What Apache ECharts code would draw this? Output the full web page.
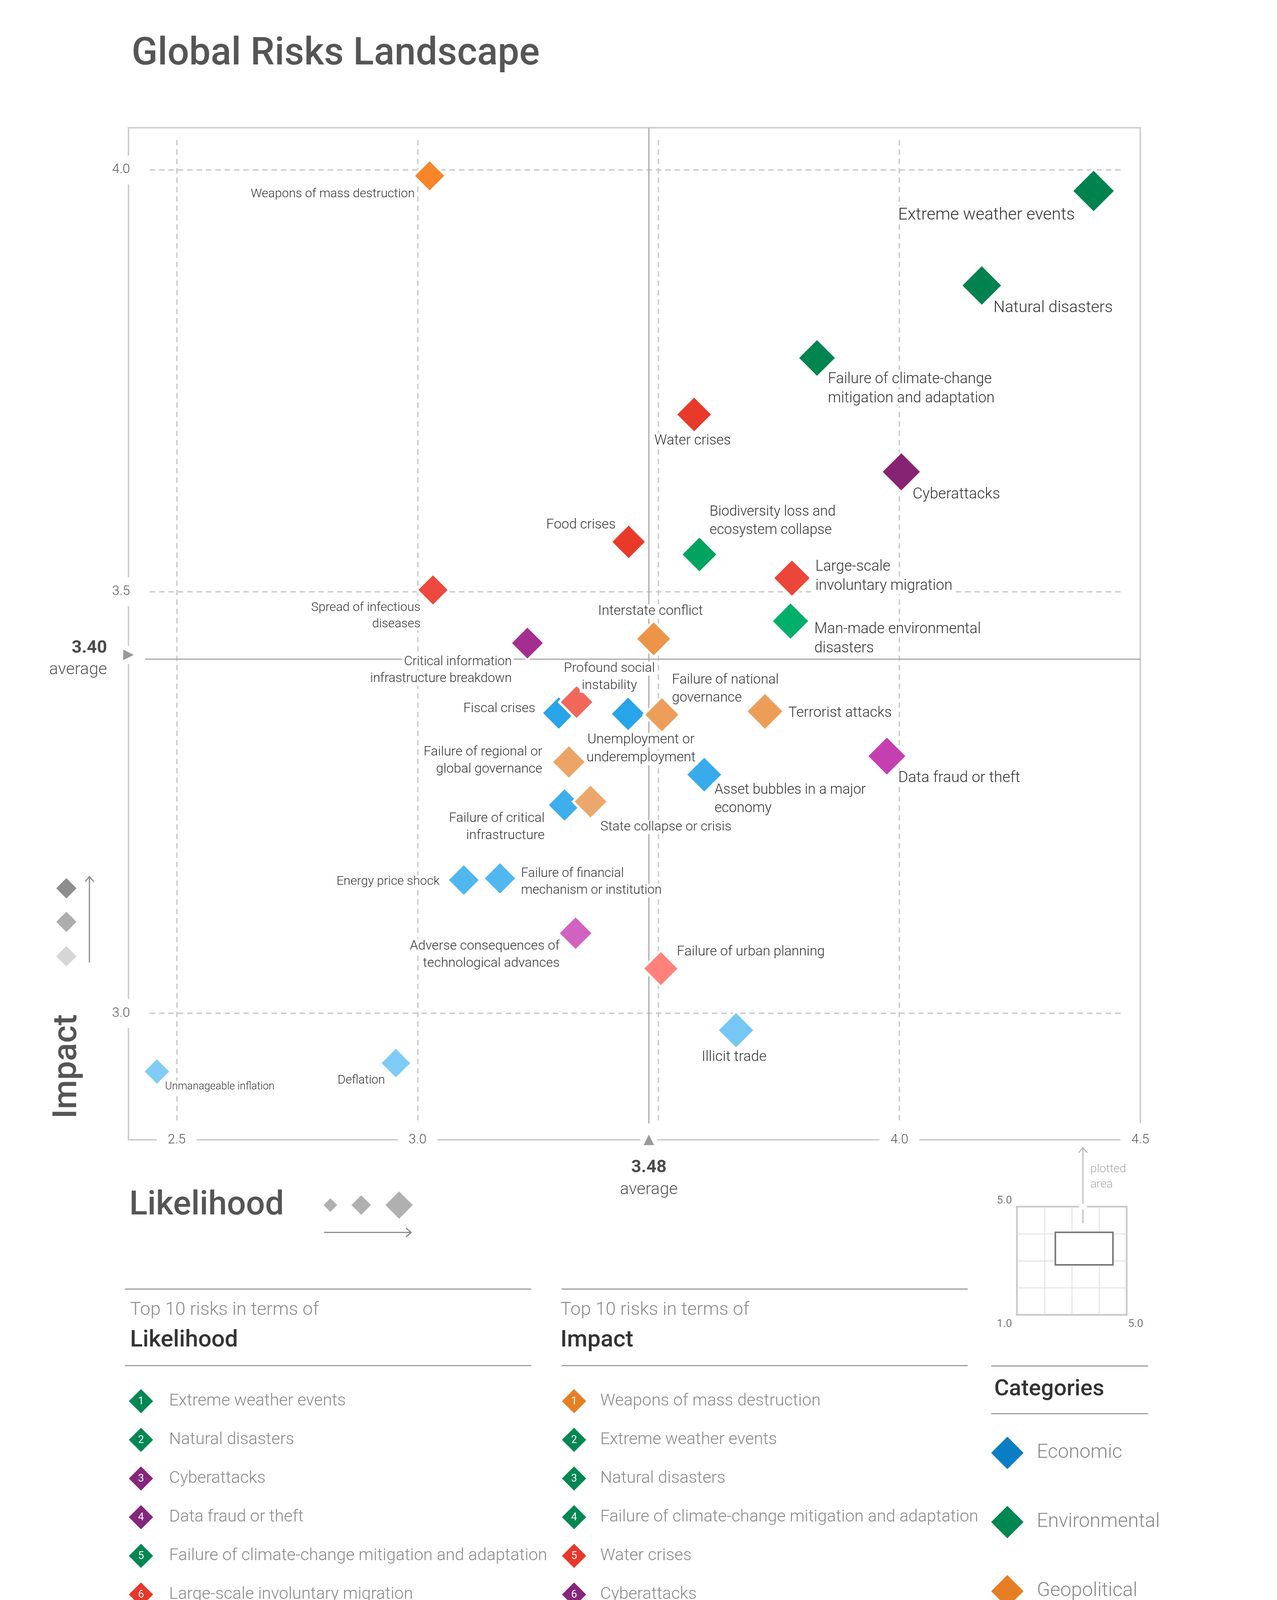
<!DOCTYPE html>
<html><head><meta charset="utf-8">
<script src="https://cdn.jsdelivr.net/npm/echarts@6/dist/echarts.min.js"></script>
<style>html,body{margin:0;padding:0;background:#fff}#c{width:3270px;height:4672px}</style>
</head><body><div id="c"></div>
<script>
// ---------------- DATA ----------------
const riskNames = [
  'Weapons of mass destruction','Extreme weather events','Natural disasters',
  'Failure of climate-change mitigation and adaptation','Water crises','Cyberattacks',
  'Biodiversity loss and ecosystem collapse','Food crises','Large-scale involuntary migration',
  'Spread of infectious diseases','Interstate conflict','Man-made environmental disasters',
  'Critical information infrastructure breakdown','Profound social instability','Fiscal crises',
  'Unemployment or underemployment','Failure of national governance','Terrorist attacks',
  'Data fraud or theft','Asset bubbles in a major economy','Failure of regional or global governance',
  'Failure of critical infrastructure','State collapse or crisis','Energy price shock',
  'Failure of financial mechanism or institution','Adverse consequences of technological advances',
  'Failure of urban planning','Illicit trade','Deflation','Unmanageable inflation'
];
const riskCategories = [
  'Geopolitical','Environmental','Environmental','Environmental','Societal','Technological',
  'Environmental','Societal','Societal','Societal','Geopolitical','Environmental',
  'Technological','Societal','Economic','Economic','Geopolitical','Geopolitical',
  'Technological','Economic','Geopolitical','Economic','Geopolitical','Economic',
  'Economic','Technological','Societal','Economic','Economic','Economic'
];
const likelihood = [3.025,4.403,4.171,3.829,3.574,4.004,3.585,3.438,3.777,3.032,3.490,3.774,
  3.228,3.330,3.293,3.437,3.507,3.721,3.974,3.595,3.314,3.305,3.359,3.096,3.171,3.328,3.505,3.661,2.955,2.459];
const impact = [3.993,3.975,3.863,3.777,3.710,3.642,3.544,3.559,3.516,3.502,3.444,3.465,
  3.439,3.369,3.356,3.355,3.354,3.358,3.305,3.283,3.298,3.247,3.251,3.158,3.160,3.095,3.053,2.980,2.941,2.931];
const categories = ['Economic','Environmental','Geopolitical','Societal','Technological'];
const topLikelihood = ['Extreme weather events','Natural disasters','Cyberattacks','Data fraud or theft',
  'Failure of climate-change mitigation and adaptation','Large-scale involuntary migration',
  'Man-made environmental disasters','Terrorist attacks','Illicit trade','Asset bubbles in a major economy'];
const topImpact = ['Weapons of mass destruction','Extreme weather events','Natural disasters',
  'Failure of climate-change mitigation and adaptation','Water crises','Cyberattacks','Food crises',
  'Biodiversity loss and ecosystem collapse','Large-scale involuntary migration','Spread of infectious diseases'];
const xTickLabels = [2.5, 3.0, 4.0, 4.5];
const xGridValues = [2.5, 3.0, 3.5, 4.0];
const yTickLabels = [3.0, 3.5, 4.0];
const yGridValues = [3.0, 3.5, 4.0];
const xRange = [2.4, 4.5];
const yRange = [2.85, 4.05];
const avgLikelihood = 3.48, avgLikelihoodLabel = '3.48';
const avgImpact = 3.425, avgImpactLabel = '3.40';
const insetRange = [1, 5];

// ---------------- STYLE ----------------
const FONT = 'Roboto, "Liberation Sans", Arial, sans-serif';
const baseColor = {Economic:'#0A7DC4', Environmental:'#008752', Geopolitical:'#E67F24', Societal:'#E8372A', Technological:'#84267A'};
const shadeStops = {
  Economic: [[2.9,'#86CFF7'],[3.4,'#1FA0E8']],
  Environmental: [[3.45,'#00B16B'],[3.6,'#009A5A'],[3.8,'#00824F']],
  Geopolitical: [[3.27,'#ECA86C'],[3.45,'#EC9346'],[4.0,'#F7852A']],
  Societal: [[3.05,'#FF827A'],[3.42,'#EF6456'],[3.5,'#EE4A3F'],[3.56,'#E8392A']],
  Technological: [[3.1,'#D262C0'],[3.33,'#C43BAF'],[3.43,'#A52D92'],[3.64,'#862473']]
};
function h2r(h){return [1,3,5].map(i=>parseInt(h.substr(i,2),16));}
function r2h(r){return '#'+r.map(v=>Math.round(v).toString(16).padStart(2,'0')).join('');}
function shade(cat, v){
  const s = shadeStops[cat];
  if (v <= s[0][0]) return s[0][1];
  if (v >= s[s.length-1][0]) return s[s.length-1][1];
  for (let k=0;k<s.length-1;k++){
    if (v>=s[k][0] && v<=s[k+1][0]){
      const t=(v-s[k][0])/(s[k+1][0]-s[k][0]); const a=h2r(s[k][1]), b=h2r(s[k+1][1]);
      return r2h(a.map((x,j)=>x+(b[j]-x)*t));
    }
  }
}
const sizeFor = l => 65 + 21.1*(l-2.46);
const fontFor = l => Math.round(27 + 8*(l-2.46));

// label layout: text (with line breaks), alignment, offset from marker centre
const labelLayout = {
  'Weapons of mass destruction':{t:'Weapons of mass destruction',a:'right',o:[-38,47]},
  'Extreme weather events':{t:'Extreme weather events',a:'right',o:[-48,62]},
  'Natural disasters':{t:'Natural disasters',a:'left',o:[30,58]},
  'Failure of climate-change mitigation and adaptation':{t:'Failure of climate-change\nmitigation and adaptation',a:'left',o:[28,80]},
  'Water crises':{t:'Water crises',a:'center',o:[-4,68]},
  'Cyberattacks':{t:'Cyberattacks',a:'left',o:[29,58]},
  'Biodiversity loss and ecosystem collapse':{t:'Biodiversity loss and\necosystem collapse',a:'left',o:[26,-85]},
  'Food crises':{t:'Food crises',a:'right',o:[-33,-43]},
  'Large-scale involuntary migration':{t:'Large-scale\ninvoluntary migration',a:'left',o:[60,-4]},
  'Spread of infectious diseases':{t:'Spread of infectious\ndiseases',a:'right',o:[-32,67]},
  'Interstate conflict':{t:'Interstate conflict',a:'center',o:[-8,-70]},
  'Man-made environmental disasters':{t:'Man-made environmental\ndisasters',a:'left',o:[61,46]},
  'Critical information infrastructure breakdown':{t:'Critical information\ninfrastructure breakdown',a:'right',o:[-40,70]},
  'Profound social instability':{t:'Profound social\ninstability',a:'center',o:[84,-64]},
  'Fiscal crises':{t:'Fiscal crises',a:'right',o:[-60,-11]},
  'Unemployment or underemployment':{t:'Unemployment or\nunderemployment',a:'center',o:[33,90]},
  'Failure of national governance':{t:'Failure of national\ngovernance',a:'left',o:[26,-66]},
  'Terrorist attacks':{t:'Terrorist attacks',a:'left',o:[60,5]},
  'Data fraud or theft':{t:'Data fraud or theft',a:'left',o:[29,57]},
  'Asset bubbles in a major economy':{t:'Asset bubbles in a major\neconomy',a:'left',o:[26,63]},
  'Failure of regional or global governance':{t:'Failure of regional or\nglobal governance',a:'right',o:[-68,-3]},
  'Failure of critical infrastructure':{t:'Failure of critical\ninfrastructure',a:'right',o:[-51,57]},
  'State collapse or crisis':{t:'State collapse or crisis',a:'left',o:[25,65]},
  'Energy price shock':{t:'Energy price shock',a:'right',o:[-62,4]},
  'Failure of financial mechanism or institution':{t:'Failure of financial\nmechanism or institution',a:'left',o:[54,10]},
  'Adverse consequences of technological advances':{t:'Adverse consequences of\ntechnological advances',a:'right',o:[-41,55]},
  'Failure of urban planning':{t:'Failure of urban planning',a:'left',o:[41,-42]},
  'Illicit trade':{t:'Illicit trade',a:'center',o:[-5,69]},
  'Deflation':{t:'Deflation',a:'right',o:[-28,45]},
  'Unmanageable inflation':{t:'Unmanageable inflation',a:'left',o:[21,39]}
};
const PAD = 5;
function labelFor(name, l){
  const lay = labelLayout[name]; const fs = fontFor(l); const lh = Math.round(fs*1.3);
  const dx = lay.o[0] + (lay.a==='right'?PAD:(lay.a==='left'?-PAD:0));
  return {show:true, position:'inside', offset:[dx, lay.o[1]], align:lay.a, verticalAlign:'middle',
    formatter: lay.t.split('\n').map(s=>'{l|'+s+'}').join('\n'),
    fontSize: fs, lineHeight: lh, color:'#333', fontFamily:FONT, fontWeight:300, textBorderWidth:0,
    rich:{l:{backgroundColor:'#fff', padding:[1,PAD], fontSize:fs, lineHeight:lh, color:'#333', fontFamily:FONT, fontWeight:300}}};
}

// ---------------- SERIES ----------------
const riskSeries = categories.map(cat => ({
  type:'scatter', name:cat, xAxisIndex:0, yAxisIndex:0, z:3, symbol:'diamond',
  itemStyle:{color:baseColor[cat], borderColor:'#fff', borderWidth:6, opacity:1},
  emphasis:{disabled:true},
  data: riskNames.map((n,i)=>i).filter(i=>riskCategories[i]===cat).map(i=>({
    name:riskNames[i], value:[likelihood[i], impact[i]],
    symbolSize: sizeFor(likelihood[i]) + 6,
    itemStyle:{color: shade(cat, impact[i])},
    label: labelFor(riskNames[i], likelihood[i])
  }))
}));

const gridLineData = [];
xGridValues.forEach(v=>gridLineData.push([{coord:[v, 2.873]},{coord:[v, 4.036]}]));
yGridValues.forEach(v=>gridLineData.push([{coord:[2.444, v]},{coord:[4.465, v]}]));

const avgRich = {
  v:{fontSize:45, fontWeight:'bold', color:'#4a4a4a', lineHeight:56, fontFamily:FONT},
  a:{fontSize:43, fontWeight:300, color:'#555', lineHeight:56, fontFamily:FONT}
};

const series = [
  {type:'scatter', name:'grid', xAxisIndex:0, yAxisIndex:0, z:1, silent:true, data:[],
   markLine:{z:1, silent:true, symbol:['none','none'], animation:false, label:{show:false},
     lineStyle:{color:'#cfcfcf', width:4, type:[14,10]}, data:gridLineData}},
  {type:'scatter', name:'avg', xAxisIndex:0, yAxisIndex:0, z:1, silent:true, data:[],
   markLine:{z:1, silent:true, symbol:['none','none'], animation:false,
     lineStyle:{color:'#aaa', width:3, type:'solid'},
     data:[
       {xAxis:avgLikelihood, label:{show:true, position:'start', distance:44, formatter:'{v|'+avgLikelihoodLabel+'}\n{a|average}', rich:avgRich, align:'center'}},
       {yAxis:avgImpact, label:{show:true, position:'start', distance:55, formatter:'{v|'+avgImpactLabel+'}\n{a|average}', rich:avgRich, align:'right'}}
     ]}},
  ...riskSeries,
  {type:'scatter', name:'avgHalo', xAxisIndex:0, yAxisIndex:0, z:5, silent:true, clip:false,
   symbol:'rect', itemStyle:{color:'#fff', opacity:1},
   data:[{value:[avgLikelihood, yRange[0]], symbolSize:[44,84]},{value:[xRange[0], avgImpact], symbolSize:[84,46]}]},
  {type:'scatter', name:'avgMarks', xAxisIndex:0, yAxisIndex:0, z:6, silent:true, clip:false,
   symbol:'triangle', symbolSize:27, itemStyle:{color:'#999', opacity:1},
   data:[{value:[avgLikelihood, yRange[0]], symbolRotate:0},{value:[xRange[0], avgImpact], symbolRotate:-90}]},
  {type:'scatter', name:'inset', xAxisIndex:1, yAxisIndex:1, silent:true, data:[],
   markArea:{silent:true, itemStyle:{color:'#fff', borderColor:'#777', borderWidth:4},
     data:[[{coord:[xRange[0], yRange[0]]},{coord:[xRange[1], yRange[1]]}]]}}
];

// ---------------- GRAPHIC ----------------
const G = [];
function txt(text, x, y, o){ G.push(Object.assign({type:'text', z:50, style:Object.assign({text, x, y, fontFamily:FONT, fill:'#555', fontSize:30, align:'left', verticalAlign:'middle', textAlign:'left', textVerticalAlign:'middle'}, o.style||{})}, o.el||{})); }
function diamond(cx, cy, r, fill){ G.push({type:'polygon', z:50, shape:{points:[[cx,cy-r],[cx+r,cy],[cx,cy+r],[cx-r,cy]]}, style:{fill}}); }
function line(x1,y1,x2,y2,stroke,w){ G.push({type:'line', z:50, shape:{x1,y1,x2,y2}, style:{stroke, lineWidth:w}}); }
function poly(points, stroke, w){ G.push({type:'polyline', z:50, shape:{points}, style:{stroke, lineWidth:w, fill:null}}); }

txt('Global Risks Landscape', 337, 140, {style:{fontSize:98, fontWeight:500, fill:'#555'}});
txt('Impact', 0, 0, {style:{fontSize:86, fontWeight:500, fill:'#555', align:'center', textAlign:'center'}, el:{x:173, y:2730, rotation:Math.PI/2}});
txt('Likelihood', 331, 3087, {style:{fontSize:86, fontWeight:500, fill:'#555'}});
// impact legend
diamond(170, 2274, 26, '#8E8E8E'); diamond(170, 2360, 26, '#ADADAD'); diamond(170, 2448, 26, '#D6D6D6');
line(229, 2464, 229, 2245, '#888', 3); poly([[218,2257],[229,2244],[240,2257]], '#888', 3);
// likelihood legend
diamond(846, 3085, 17.5, '#B0B0B0'); diamond(925, 3085, 25, '#B0B0B0'); diamond(1022, 3085, 35, '#B0B0B0');
line(830, 3155, 1052, 3155, '#888', 3); poly([[1040,3144],[1053,3155],[1040,3166]], '#888', 3);
// inset
G.push({type:'rect', z:60, shape:{x:2763, y:3082, width:20, height:14}, style:{fill:'#fff'}});
line(2773, 3131, 2773, 2939, '#bbb', 3); poly([[2762,2951],[2773,2938],[2784,2951]], '#bbb', 3);
txt('plotted', 2792, 2993, {style:{fontSize:30, fill:'#aaa', fontWeight:300}});
txt('area', 2792, 3032, {style:{fontSize:30, fill:'#aaa', fontWeight:300}});
txt(insetRange[1].toFixed(1), 2572, 3074, {style:{fontSize:28, fill:'#777', align:'center', textAlign:'center'}});
txt(insetRange[0].toFixed(1), 2572, 3390, {style:{fontSize:28, fill:'#777', align:'center', textAlign:'center'}});
txt(insetRange[1].toFixed(1), 2908, 3390, {style:{fontSize:28, fill:'#777', align:'center', textAlign:'center'}});
// top 10 lists
const catOf = n => riskCategories[riskNames.indexOf(n)];
function list(items, heading, xr0, xr1, xh, xd, xt){
  line(xr0, 3300, xr1, 3300, '#8a8a8a', 2.5); line(xr0, 3496, xr1, 3496, '#8a8a8a', 2.5);
  txt('Top 10 risks in terms of', xh, 3354, {style:{fontSize:47, fill:'#8a8a8a', fontWeight:300}});
  txt(heading, xh, 3432, {style:{fontSize:60, fill:'#333', fontWeight:500}});
  items.forEach((n,i)=>{
    const y = 3587 + i*99.0;
    diamond(xd, y, 31, baseColor[catOf(n)]);
    txt(String(i+1), xd, y+1, {style:{fontSize:27, fill:'#fff', align:'center', textAlign:'center', fontWeight:400}});
    txt(n, xt, y, {style:{fontSize:43, fill:'#888', fontWeight:300}});
  });
}
list(topLikelihood, 'Likelihood', 320, 1360, 333, 361, 433);
list(topImpact, 'Impact', 1438, 2478, 1435, 1470, 1537);
// categories header
line(2538, 3497, 2940, 3497, '#8a8a8a', 2.5); line(2538, 3619, 2940, 3619, '#8a8a8a', 2.5);
txt('Categories', 2546, 3557, {style:{fontSize:58, fill:'#333', fontWeight:500}});

// ---------------- CHART ----------------
const chart = echarts.init(document.getElementById('c'), null, {renderer:'canvas', width:3270, height:4672});
const tickLabel = {fontSize:34, color:'#555', fontFamily:FONT, fontWeight:300, backgroundColor:'#fff'};
chart.setOption({
  backgroundColor:'#fff', animation:false,
  grid:[
    {left:329, top:327, width:2591, height:2591, show:true, borderColor:'#cfcfcf', borderWidth:4, backgroundColor:'transparent'},
    {left:2604, top:3089, width:281, height:277, show:true, borderColor:'#aaa', borderWidth:4, backgroundColor:'transparent'}
  ],
  xAxis:[
    {type:'value', gridIndex:0, min:xRange[0], max:xRange[1], z:1,
     axisLine:{show:true, onZero:false, lineStyle:{color:'#cfcfcf', width:4}}, axisTick:{show:false}, splitLine:{show:false},
     axisLabel:Object.assign({customValues:xTickLabels, formatter:v=>Number(v).toFixed(1), verticalAlign:'middle', margin:0, padding:[26,28], showMinLabel:true, showMaxLabel:true}, tickLabel)},
    {type:'value', gridIndex:1, min:insetRange[0], max:insetRange[1], interval:1,
     axisLine:{show:false}, axisTick:{show:false}, axisLabel:{show:false}, splitLine:{show:true, lineStyle:{color:'#ddd', width:2}}}
  ],
  yAxis:[
    {type:'value', gridIndex:0, min:yRange[0], max:yRange[1], z:1,
     axisLine:{show:true, onZero:false, lineStyle:{color:'#cfcfcf', width:4}}, axisTick:{show:false}, splitLine:{show:false},
     axisLabel:Object.assign({customValues:yTickLabels, formatter:v=>Number(v).toFixed(1), align:'center', margin:19, padding:[20,10], showMinLabel:true, showMaxLabel:true}, tickLabel)},
    {type:'value', gridIndex:1, min:insetRange[0], max:insetRange[1], interval:1,
     axisLine:{show:false}, axisTick:{show:false}, axisLabel:{show:false}, splitLine:{show:true, lineStyle:{color:'#ddd', width:2}}}
  ],
  legend:{orient:'vertical', left:2538, top:3678, itemWidth:83, itemHeight:83, itemGap:94, icon:'diamond',
    selectedMode:false, padding:0, data:categories, itemStyle:{borderWidth:0},
    textStyle:{fontSize:50, color:'#888', fontFamily:FONT, fontWeight:300, padding:[0,0,0,29]}},
  graphic:{elements:G},
  series
});
</script></body></html>
